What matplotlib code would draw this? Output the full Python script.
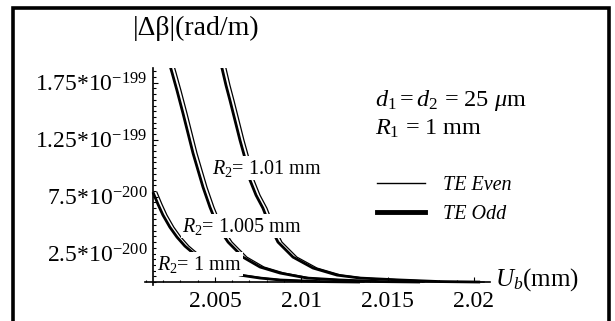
import matplotlib
matplotlib.use('Agg')
import matplotlib.pyplot as plt
from matplotlib.lines import Line2D
from matplotlib.patches import Rectangle
from matplotlib.ticker import FixedLocator, MultipleLocator

plt.rcParams['font.family'] = ['Liberation Serif', 'DejaVu Serif']
plt.rcParams['mathtext.fontset'] = 'custom'
plt.rcParams['mathtext.rm'] = 'Liberation Serif'
plt.rcParams['mathtext.it'] = 'Liberation Serif:italic'

# |delta beta| in units of 1e-200 rad/m, U_b in mm
r1_odd_x = [2.00141, 2.00170, 2.00199, 2.00239, 2.00280, 2.00326, 2.00367, 2.00442,
            2.00529, 2.00645, 2.00761, 2.00877, 2.01109, 2.01340]
r1_even_x = [2.00164, 2.00193, 2.00222, 2.00262, 2.00303, 2.00349, 2.00390, 2.00465,
             2.00552, 2.00668, 2.00784, 2.00900, 2.01132, 2.01363]
r1_y = [7.89, 6.84, 5.88, 4.82, 3.95, 3.16, 2.63, 1.84, 1.23, 0.61, 0.35, 0.18, 0.04, 0.0]

r1005_odd_x = [2.00234, 2.00251, 2.00280, 2.00315, 2.00344, 2.00373, 2.00402, 2.00431, 2.00471,
               2.00518, 2.00576, 2.00662, 2.00761, 2.00877, 2.01033, 2.01224, 2.01456, 2.01688]
r1005_even_x = [2.00257, 2.00274, 2.00303, 2.00338, 2.00367, 2.00396, 2.00425, 2.00454, 2.00494,
                2.00541, 2.00599, 2.00685, 2.00784, 2.00900, 2.01056, 2.01247, 2.01479, 2.01711]
r1005_y = [19.30, 18.42, 16.84, 14.82, 13.07, 11.32, 9.82, 8.33, 6.58,
           4.82, 3.51, 2.19, 1.32, 0.79, 0.35, 0.18, 0.04, 0.0]

r101_odd_x = [2.00529, 2.00541, 2.00564, 2.00587, 2.00616, 2.00645, 2.00674, 2.00703, 2.00738, 2.00778,
              2.00819, 2.00865, 2.00952, 2.01068, 2.01207, 2.01340, 2.01572, 2.01804, 2.02036]
r101_even_x = [2.00552, 2.00564, 2.00587, 2.00610, 2.00639, 2.00668, 2.00697, 2.00726, 2.00761, 2.00801,
               2.00842, 2.00888, 2.00975, 2.01091, 2.01230, 2.01363, 2.01595, 2.01827, 2.02059]
r101_y = [19.30, 18.77, 17.28, 15.96, 14.21, 12.46, 10.88, 8.95, 7.63, 6.49,
          4.91, 3.51, 2.19, 1.23, 0.61, 0.35, 0.18, 0.04, 0.0]

x_ticks = [2.005, 2.01, 2.015, 2.02]
x_labels = ['2.005', '2.01', '2.015', '2.02']
y_ticks = [2.5, 7.5, 12.5, 17.5]
y_labels = ['2.5*10$^{-200}$', '7.5*10$^{-200}$', '1.25*10$^{-199}$', '1.75*10$^{-199}$']

fig = plt.figure(figsize=(6.15, 3.21), dpi=100)
ax = fig.add_axes([145 / 615, 36 / 321, 345 / 615, 217 / 321])

thin = 0.9
thick = 2.0
for xo, xe, y in [(r1_odd_x, r1_even_x, r1_y),
                  (r1005_odd_x, r1005_even_x, r1005_y),
                  (r101_odd_x, r101_even_x, r101_y)]:
    ax.plot(xo, y, color='black', lw=thick, solid_capstyle='butt')
    ax.plot(xe, y, color='black', lw=thin)

ax.set_xlim(2.00095, 2.02093)
ax.set_ylim(-0.26, 18.8)

for s in ['top', 'right']:
    ax.spines[s].set_visible(False)
ax.spines['left'].set_position(('data', 2.00141))
ax.spines['bottom'].set_position(('data', 0))
ax.spines['left'].set_linewidth(1.2)
ax.spines['bottom'].set_linewidth(1.2)

ax.xaxis.set_major_locator(FixedLocator(x_ticks))
ax.set_xticklabels(x_labels)
ax.xaxis.set_minor_locator(MultipleLocator(0.001))
ax.yaxis.set_major_locator(FixedLocator(y_ticks))
ax.set_yticklabels(y_labels)
ax.yaxis.set_minor_locator(MultipleLocator(0.5))
ax.tick_params(which='both', direction='in', labelsize=17, width=0.8)
ax.tick_params(which='major', length=3.5)
ax.tick_params(which='minor', length=1.8)
ax.tick_params(axis='x', pad=6.5)
ax.tick_params(axis='y', pad=4)

box = dict(facecolor='white', edgecolor='none', pad=1.0)
ax.text(2.00483, 10.0, '$R_2$= 1.01 mm', fontsize=14.5, va='center', ha='left', bbox=box, zorder=5)
ax.text(2.00309, 4.91, '$R_2$= 1.005 mm', fontsize=14.5, va='center', ha='left', bbox=box, zorder=5)
ax.text(2.00164, 1.58, '$R_2$= 1 mm', fontsize=14.5, va='center', ha='left', bbox=box, zorder=5)

fig.text(0.319, 0.913, '|Δβ|(rad/m)', fontsize=20, ha='center', va='center')
fig.text(0.610, 0.688, '$d_1 = d_2$ = 25 $\\mu$m', fontsize=17.5, ha='left', va='center')
fig.text(0.610, 0.600, '$R_1$ = 1 mm', fontsize=17.5, ha='left', va='center')
fig.text(0.805, 0.128, '$U_b$(mm)', fontsize=18, ha='left', va='center')

handles = [Line2D([], [], color='black', lw=1.0),
           Line2D([], [], color='black', lw=3.5)]
ax.legend(handles, ['TE Even', 'TE Odd'], loc='upper left',
          bbox_to_anchor=(377 / 615, 1 - 176 / 321), bbox_transform=fig.transFigure,
          frameon=False, borderpad=0, borderaxespad=0, handlelength=2.4,
          handletextpad=0.9, labelspacing=0.5,
          prop={'family': 'Liberation Serif', 'style': 'italic', 'size': 14.5})

fig.add_artist(Rectangle((12.5 / 615, -0.1), 596.5 / 615, 1.1 - 7.5 / 321,
                         transform=fig.transFigure, fill=False, lw=2.6, edgecolor='black'))

fig.savefig('out.png', dpi=100)
